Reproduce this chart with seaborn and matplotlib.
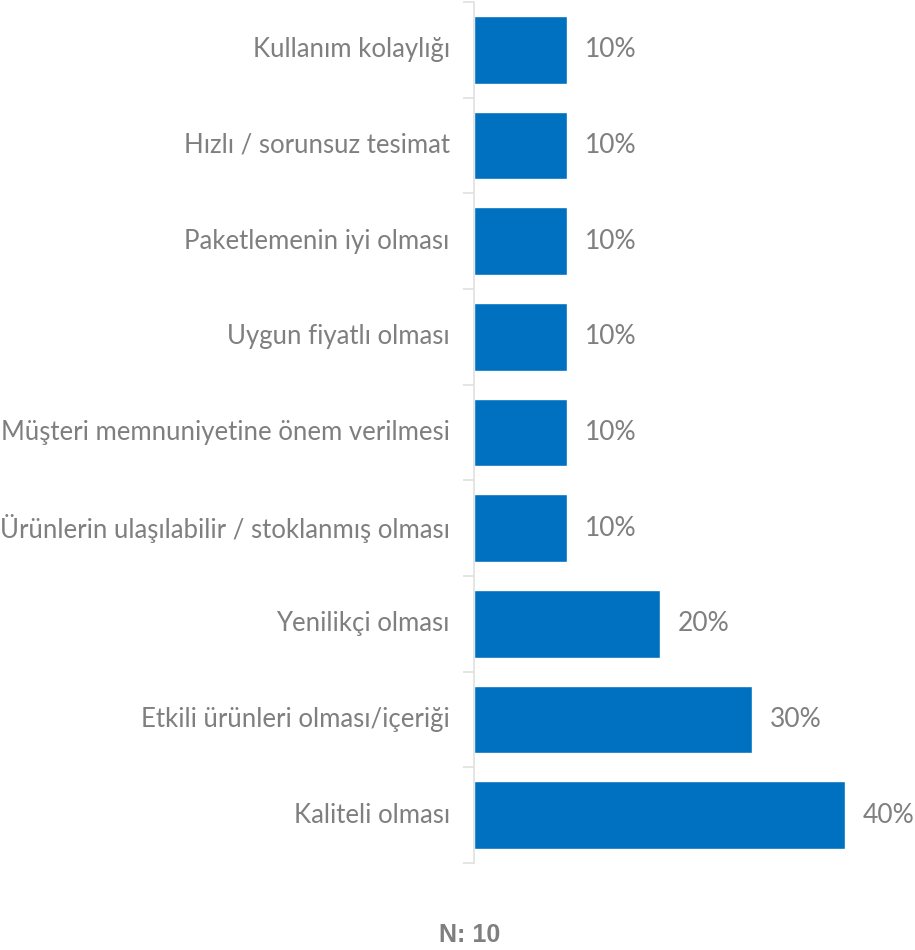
import matplotlib
matplotlib.use("Agg")
import matplotlib.pyplot as plt
import seaborn as sns
import pandas as pd
import numpy as np

categories = [
    "Kullanım kolaylığı",
    "Hızlı / sorunsuz tesimat",
    "Paketlemenin iyi olması",
    "Uygun fiyatlı olması",
    "Müşteri memnuniyetine önem verilmesi",
    "Ürünlerin ulaşılabilir / stoklanmış olması",
    "Yenilikçi olması",
    "Etkili ürünleri olması/içeriği",
    "Kaliteli olması",
]
values = [10, 10, 10, 10, 10, 10, 20, 30, 40]
footnote = "N: 10"

df = pd.DataFrame({"cat": categories, "val": values})

sns.set_theme(style="white")
plt.rcParams["font.family"] = ["Lato", "DejaVu Sans"]

W, H = 915, 950
fig = plt.figure(figsize=(W / 100, H / 100), dpi=100)
ax = fig.add_axes([474 / W, 1 - 863 / H, (W - 474) / W, (863 - 2) / H])

sns.barplot(data=df, x="val", y="cat", orient="h", color="#0070C0",
            saturation=1, width=0.71, ax=ax)

ax.set_xlim(0, (W - 474) / 9.275)
ax.set_ylim(len(categories) - 0.5, -0.5)
ax.set_xlabel("")
ax.set_ylabel("")
ax.set_xticks([])
for s in ["top", "right", "bottom"]:
    ax.spines[s].set_visible(False)
ax.spines["left"].set_color("#e0e0e0")
ax.spines["left"].set_linewidth(1.2)

ax.set_yticks(np.arange(-0.5, len(categories), 1.0))
ax.set_yticklabels([])
ax.tick_params(axis="y", length=8, width=1.2, color="#e0e0e0", left=True)
for i, c in enumerate(categories):
    ax.text(-0.055, i, c, transform=ax.get_yaxis_transform(), ha="right",
            va="center", fontsize=18.5, color="#7f7f7f")

for i, v in enumerate(values):
    ax.text(v + 1.95, i, f"{v}%", ha="left", va="center", fontsize=19,
            color="#7f7f7f")

fig.text(470 / W, 1 - 935 / H, footnote, ha="center", va="center",
         fontsize=18, fontweight="bold", color="#7f7f7f",
         family=["Liberation Sans", "DejaVu Sans"])

fig.savefig("out.png", dpi=100)
